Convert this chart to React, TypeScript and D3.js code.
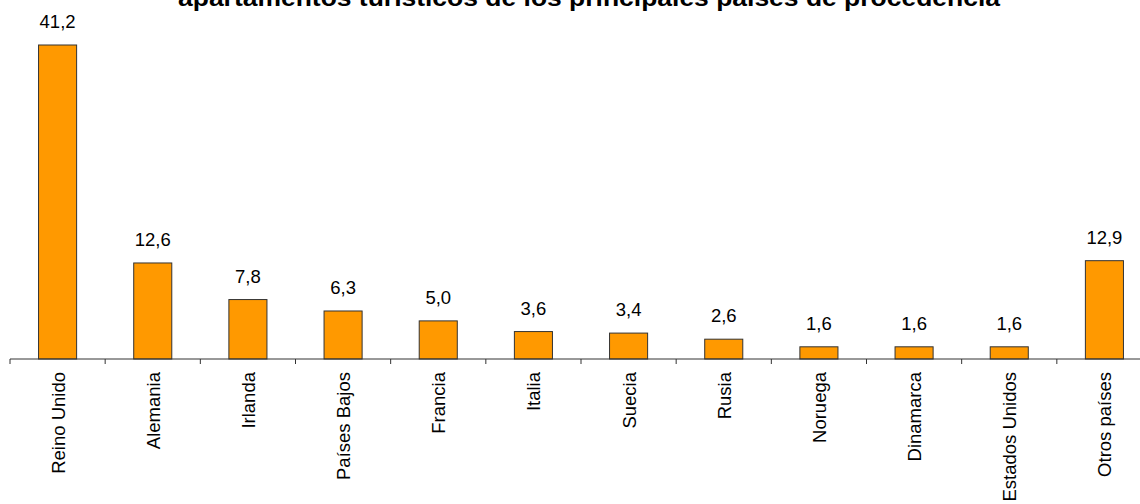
import React from "react";
import * as d3 from "d3";

const categories = ["Reino Unido", "Alemania", "Irlanda", "Países Bajos", "Francia", "Italia", "Suecia", "Rusia", "Noruega", "Dinamarca", "Estados Unidos", "Otros países"];
const values = [41.2, 12.6, 7.8, 6.3, 5.0, 3.6, 3.4, 2.6, 1.6, 1.6, 1.6, 12.9];
const titleText = "apartamentos turísticos de los principales países de procedencia";

const W = 1140, H = 504;
const left = 10, right = 1152, baseY = 359;

export default function App() {
  const x = d3.scaleBand<string>().domain(categories).range([left, right]).paddingInner(0.6).paddingOuter(0.3);
  const xb = d3.scaleBand<string>().domain(categories).range([left, right]);
  const y = d3.scaleLinear().domain([0, 41.2]).range([baseY, 45]);
  const fmt = (v: number) => v.toFixed(1).replace(".", ",");
  const font = "Arial, 'Liberation Sans', sans-serif";
  const ticks = categories.map((c) => xb(c)!).concat([right]);
  return (
    <svg width={W} height={H} style={{ position: "absolute", left: 0, top: 0 }} fontFamily={font}>
      <rect width={W} height={H} fill="#fff" />
      <text x={589} y={6} textAnchor="middle" fontWeight="bold" fontSize={24} textLength={822} lengthAdjust="spacingAndGlyphs" fill="#000">{titleText}</text>
      {categories.map((c, i) => (
        <g key={c}>
          <rect x={x(c)!} y={y(values[i])} width={x.bandwidth()} height={baseY - y(values[i])} fill="#FF9900" stroke="#333" strokeWidth={1} />
          <text x={x(c)! + x.bandwidth() / 2} y={y(values[i]) - 17} textAnchor="middle" fontSize={18.5} fill="#000">{fmt(values[i])}</text>
          <text transform={`translate(${xb(c)! + xb.bandwidth() / 2 + 7},${372}) rotate(-90)`} textAnchor="end" fontSize={18.5} fill="#000">{c}</text>
        </g>
      ))}
      <line x1={left} x2={right} y1={baseY} y2={baseY} stroke="#333" strokeWidth={1} />
      {ticks.map((t, i) => (
        <line key={i} x1={t} x2={t} y1={baseY} y2={baseY + 5} stroke="#333" strokeWidth={1} />
      ))}
    </svg>
  );
}
